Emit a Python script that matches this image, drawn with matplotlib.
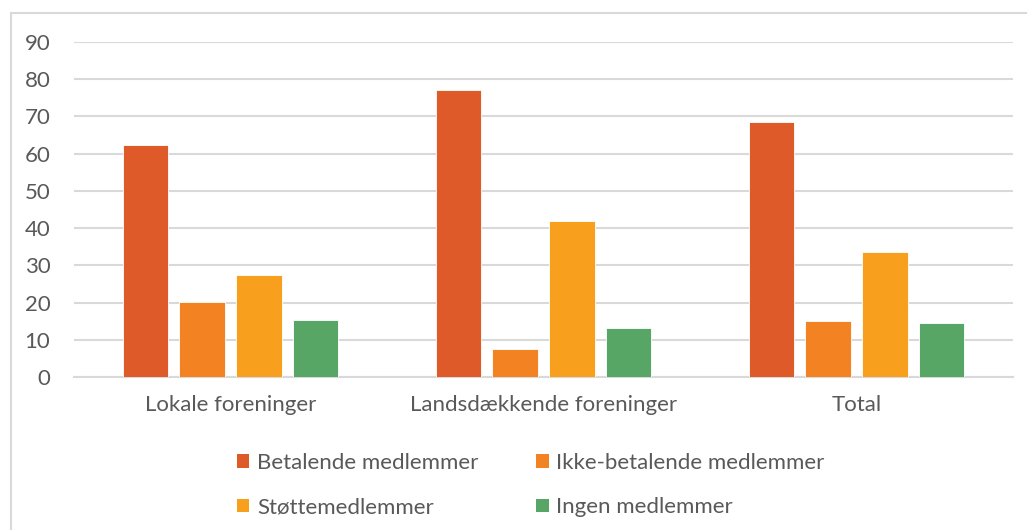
import numpy as np
import matplotlib.pyplot as plt
from matplotlib.patches import Rectangle, Patch

plt.rcParams['font.family'] = ['Lato', 'DejaVu Sans']

# categories and series
categories = ["Lokale foreninger", "Landsdækkende foreninger", "Total"]
series_names = ["Betalende medlemmer", "Ikke-betalende medlemmer",
                "Støttemedlemmer", "Ingen medlemmer"]
betalende = [62.3, 77.1, 68.5]
ikke_betalende = [20.2, 7.5, 15.0]
stotte = [27.3, 41.9, 33.5]
ingen = [15.3, 13.1, 14.4]
y_ticks = [0, 10, 20, 30, 40, 50, 60, 70, 80, 90]

colors = ["#DE5A29", "#F28222", "#F8A01E", "#58A666"]
text_gray = "#595959"
grid_gray = "#D9D9D9"

W, H = 1027, 530
fig = plt.figure(figsize=(W / 100, H / 100), dpi=100)
ax = fig.add_axes([74 / W, 1 - 377 / H, (1013 - 74) / W, (377 - 42) / H])

# outer chart frame (cut by the image edges on right and bottom)
fig.patches.append(Rectangle((10.5 / W, -0.1), 1.2, 1 - 12.5 / H + 0.1,
                             transform=fig.transFigure, fill=False,
                             edgecolor=grid_gray, linewidth=1.5))

x = np.arange(len(categories))
step = 0.182
width = 0.144
all_series = [betalende, ikke_betalende, stotte, ingen]
for i, vals in enumerate(all_series):
    ax.bar(x + (i - 1.5) * step, vals, width, color=colors[i],
           edgecolor="white", linewidth=0.6, zorder=3, label=series_names[i])

ax.set_xlim(-0.5, 2.5)
ax.set_ylim(0, 90)
ax.set_yticks(y_ticks)
ax.set_xticks(x)
ax.set_xticklabels(categories)
ax.yaxis.grid(True, color=grid_gray, linewidth=1.5, zorder=0)
ax.set_axisbelow(True)
for s in ["top", "right", "left"]:
    ax.spines[s].set_visible(False)
ax.spines["bottom"].set_color(grid_gray)
ax.spines["bottom"].set_linewidth(1.5)
ax.tick_params(axis="both", length=0, labelsize=16, labelcolor=text_gray)
ax.tick_params(axis="y", pad=17)
ax.tick_params(axis="x", pad=13)

# legend fills column-wise, so order items to read row-wise
order = [0, 2, 1, 3]
handles = [Patch(facecolor=colors[i], edgecolor="none") for i in order]
labels = [series_names[i] for i in order]
leg = fig.legend(handles, labels, loc="center",
                 bbox_to_anchor=(531 / W, 1 - 485 / H), ncol=2, frameon=False,
                 fontsize=16, handlelength=0.55, handleheight=0.55,
                 handletextpad=0.35, columnspacing=2.6, labelspacing=1.1)
for t in leg.get_texts():
    t.set_color(text_gray)

fig.savefig("out.png", dpi=100)
